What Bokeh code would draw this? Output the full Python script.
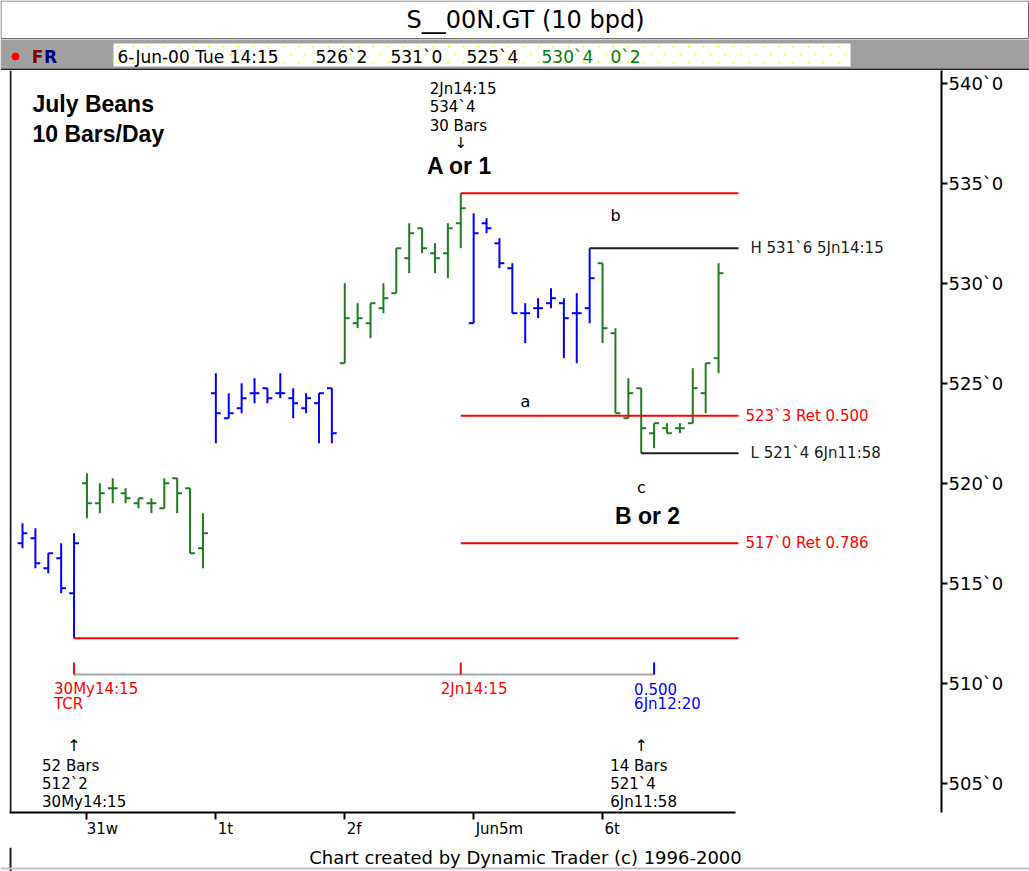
from bokeh.plotting import figure
from bokeh.layouts import column
from bokeh.models import Range1d, FixedTicker, BoxAnnotation, ColumnDataSource, LinearAxis
from bokeh.core.properties import value
from bokeh.embed import file_html
from bokeh.resources import INLINE

# ---------------- data ----------------
title_text = "S__00N.GT (10 bpd)"
day_labels = ["30My", "31w", "1t", "2f", "Jun5m", "6t"]
bars_per_day = [5, 10, 10, 10, 10, 10]

opens = [517.0, 517.25, 515.75, 516.25, 514.5,
         520.0, 519.0, 519.75, 519.5, 519.0, 519.0, 518.75, 520.25, 519.75, 516.75,
         524.5, 523.25, 523.75, 524.5, 524.75, 524.5, 524.25, 523.75, 524.0, 524.75,
         526.0, 528.0, 528.0, 528.75, 529.5, 531.25, 532.75, 531.5, 531.5, 533.0,
         528.0, 533.0, 532.0, 530.75, 528.5, 528.75, 529.0, 529.0, 528.5, 528.75,
         531.0, 527.5, 523.25, 524.75, 522.5, 522.75, 522.75, 523.0, 524.5, 526.25]
highs = [518.0, 517.75, 516.5, 517.0, 517.5,
         520.5, 520.0, 520.25, 519.75, 519.25, 519.25, 520.25, 520.25, 519.75, 518.5,
         525.5, 524.5, 525.0, 525.25, 524.75, 525.5, 524.75, 524.5, 524.5, 524.75,
         530.0, 529.0, 529.0, 530.0, 531.75, 533.0, 532.75, 532.0, 533.0, 534.5,
         533.5, 533.25, 532.25, 531.0, 529.0, 529.25, 529.75, 529.25, 529.5, 531.75,
         531.0, 527.75, 525.25, 524.75, 523.0, 523.0, 523.0, 525.75, 526.0, 531.0]
lows = [516.75, 515.75, 515.5, 514.5, 512.25,
        518.25, 518.5, 519.0, 519.0, 518.75, 518.5, 518.75, 518.5, 516.5, 515.75,
        522.0, 523.25, 523.5, 524.0, 524.0, 524.25, 523.25, 523.5, 522.0, 522.0,
        526.0, 527.75, 527.25, 528.5, 529.5, 530.5, 531.5, 530.5, 530.25, 531.75,
        528.0, 532.5, 530.75, 528.5, 527.0, 528.25, 528.75, 526.25, 526.0, 528.0,
        527.0, 523.5, 523.25, 521.5, 521.75, 522.5, 522.5, 523.0, 523.5, 525.5]
closes = [517.5, 516.0, 516.5, 514.75, 517.0,
          519.0, 519.5, 519.75, 519.25, 519.25, 519.0, 520.0, 519.5, 516.5, 517.5,
          523.5, 523.5, 524.25, 524.5, 524.25, 524.5, 524.0, 524.25, 524.5, 522.5,
          528.25, 528.25, 529.0, 529.25, 531.75, 532.5, 531.75, 531.25, 532.75, 533.75,
          532.5, 532.75, 531.0, 528.5, 528.5, 528.75, 529.25, 528.25, 528.5, 530.25,
          527.75, 523.5, 524.5, 522.75, 523.0, 522.5, 522.75, 524.75, 526.0, 530.5]

price_ticks = [505, 510, 515, 520, 525, 530, 535, 540]
price_tick_labels = ["505`0", "510`0", "515`0", "520`0", "525`0", "530`0", "535`0", "540`0"]
date_ticks = [5, 15, 25, 35, 45]
date_tick_labels = ["31w", "1t", "2f", "Jun5m", "6t"]

# horizontal levels: A high, swing H, 0.500 ret, swing L, 0.786 ret, start low
level_prices = [534.5, 531.75, 523.375, 521.5, 517.0, 512.25]
level_start = [34, 44, 34, 48, 34, 4]
level_texts = ["", "H 531`6 5Jn14:15", "523`3 Ret 0.500", "L 521`4 6Jn11:58", "517`0 Ret 0.786", ""]

# time markers on the bottom
marker_bars = [4, 34, 49]
marker_texts = [["30My14:15", "TCR"], ["2Jn14:15"], ["0.500", "6Jn12:20"]]

# swing points: bar index, bar count, time label
swing_bars = [4, 34, 48]
swing_counts = [52, 30, 14]
swing_times = ["30My14:15", "2Jn14:15", "6Jn11:58"]

info_date = "6-Jun-00 Tue 14:15"
info_extra = "0`2"
footer_text = "Chart created by Dynamic Trader (c) 1996-2000"

# ---------------- geometry / style ----------------
W, H = 1029, 871
HDR_H = 70
FTR_TOP = 847
FL, FR, FT, FB = 9, 941, 70, 812
X0PX, DX = 22.0, 12.89
Y540, DY = 82.7, 20.0
TICK = 0.38
SMALL = "15px"


def xd(px):
    return (px - X0PX) / DX


def yd(py):
    return 540 - (py - Y540) / DY


def fmt(v):
    whole = int(v)
    return f"{whole}`{int(round((v - whole) * 8))}"


BLUE = "#0000ff"
GREEN = "#1e7d1e"
RED = "#ff0000"
BLACK = "#000000"
FONT = "DejaVu Sans"
BOLD_FONT = "Liberation Sans"

day_colors = [BLUE, GREEN]
colors = []
for d, n in enumerate(bars_per_day):
    colors += [day_colors[d % 2]] * n
idx = list(range(len(opens)))

# ================= header =================
hdr = figure(width=W, height=HDR_H, title=None, x_range=Range1d(0, W), y_range=Range1d(HDR_H, 0),
             x_axis_location=None, y_axis_location=None, output_backend="svg",
             toolbar_location=None, min_border=0)
hdr.frame_align = False
hdr.outline_line_color = None
hdr.grid.visible = False
hdr.quad(left=[0.5], right=[W - 1], top=[0.5], bottom=[38], fill_color="white",
         line_color="#707070", line_width=1)
hdr.quad(left=[0], right=[W], top=[39], bottom=[68], fill_color="#a0a0a0", line_color=None)
hdr.quad(left=[113], right=[850], top=[43], bottom=[66], fill_color="white", line_color=None)
# dotted yellow texture of the status field
dot_x, dot_y = [], []
for r, yy in enumerate([46, 54, 62]):
    xx = 118 + (7 if r % 2 else 0)
    while xx < 848:
        dot_x.append(xx)
        dot_y.append(yy)
        xx += 15
hdr.scatter(x=dot_x, y=dot_y, size=2, color="#f0f000", line_color=None)
hdr.quad(left=[0], right=[W], top=[68], bottom=[70], fill_color="#202020", line_color=None)
hdr.text(x=[525], y=[19], text=[title_text], text_align="center", text_baseline="middle",
         text_font=value(FONT), text_font_size="24px", text_color=BLACK)
hdr.scatter(x=[15], y=[56], size=7, color=RED)
hdr.text(x=[37, 50], y=[56, 56], text=["F", "R"], text_align="center", text_baseline="middle",
         text_font=value(FONT), text_font_style="bold", text_font_size="17px",
         text_color=["#800000", "#000080"])
info_x = [117, 315, 390, 466, 541, 610]
info_txt = [info_date, fmt(opens[-1]), fmt(highs[-1]), fmt(lows[-1]), fmt(closes[-1]), info_extra]
info_col = [BLACK, BLACK, BLACK, BLACK, "#008000", "#008000"]
hdr.text(x=info_x, y=[56] * 6, text=info_txt, text_color=info_col, text_align="left",
         text_baseline="middle", text_font=value(FONT), text_font_size="17px")

# ================= main chart =================
p = figure(width=W, height=FTR_TOP - HDR_H, title=None,
           x_range=Range1d(xd(FL), xd(FR)), y_range=Range1d(yd(FB), yd(FT)),
           y_axis_location="right", x_axis_location=None, output_backend="svg",
           toolbar_location=None,
           min_border_left=FL, min_border_right=W - FR, min_border_top=0,
           min_border_bottom=FTR_TOP - FB)
p.frame_align = False
p.outline_line_color = None
p.grid.visible = False

yax = p.yaxis[0]
yax.ticker = FixedTicker(ticks=price_ticks)
yax.major_label_overrides = {t: l for t, l in zip(price_ticks, price_tick_labels)}
yax.minor_tick_line_color = None
yax.major_tick_in = 0
yax.major_tick_out = 6
yax.major_tick_line_width = 2
yax.axis_line_width = 2
yax.major_label_standoff = 1
yax.major_label_text_font = FONT
yax.major_label_text_font_size = "18px"
yax.major_label_text_color = BLACK

# x axis: tick marks
xax = LinearAxis(ticker=FixedTicker(ticks=date_ticks))
xax.major_label_overrides = {t: "" for t in date_ticks}
xax.major_label_text_font_size = "0px"
xax.major_label_standoff = 0
xax.minor_tick_line_color = None
xax.major_tick_in = 0
xax.major_tick_out = 7
xax.major_tick_line_width = 2
xax.axis_line_width = 2
xax.bounds = (xd(FL), xd(735))
p.add_layout(xax, "below")
# x axis: day labels, printed just right of each tick (shift = half label width + gap)
lab_shift = [1.2, 0.75, 0.73, 2.0, 0.75]
lab_pos = [t + s for t, s in zip(date_ticks, lab_shift)]
xlab = LinearAxis(ticker=FixedTicker(ticks=lab_pos))
xlab.major_label_overrides = {t: l for t, l in zip(lab_pos, date_tick_labels)}
xlab.axis_line_color = None
xlab.major_tick_line_color = None
xlab.minor_tick_line_color = None
xlab.major_tick_out = 0
xlab.major_tick_in = 0
xlab.major_label_standoff = 0
xlab.major_label_text_font = FONT
xlab.major_label_text_font_size = SMALL
xlab.major_label_text_color = BLACK
p.add_layout(xlab, "below")

# left border line of the chart area
p.add_layout(BoxAnnotation(left=xd(FL), right=xd(FL + 2), fill_color="#202020",
                           fill_alpha=1, line_color=None))

# ---- OHLC bars ----
src = ColumnDataSource(dict(x=idx, o=opens, h=highs, l=lows, c=closes, color=colors,
                            xl=[i - TICK for i in idx], xr=[i + TICK for i in idx]))
p.segment(x0="x", y0="l", x1="x", y1="h", color="color", line_width=2, source=src)
p.segment(x0="xl", y0="o", x1="x", y1="o", color="color", line_width=2, source=src)
p.segment(x0="x", y0="c", x1="xr", y1="c", color="color", line_width=2, source=src)

# ---- level lines ----
lvl_end = xd(738)
lvl_colors = [RED, "#202020", RED, "#202020", RED, RED]
p.segment(x0=level_start, y0=level_prices, x1=[lvl_end] * len(level_prices), y1=level_prices,
          color=lvl_colors, line_width=2)
lvl_text_x = [xd(750) if t.startswith(("H", "L")) else xd(745) for t in level_texts]
p.text(x=lvl_text_x, y=level_prices, text=level_texts, text_color=lvl_colors,
       text_font=value(FONT), text_font_size=SMALL, text_baseline="middle", text_align="left")

# ---- time markers ----
mk_y = yd(674)
p.segment(x0=[marker_bars[0]], y0=[mk_y], x1=[marker_bars[-1]], y1=[mk_y],
          color="#a8a8a8", line_width=2)
mk_colors = [RED, RED, BLUE]
p.segment(x0=marker_bars, y0=[yd(662)] * 3, x1=marker_bars, y1=[mk_y] * 3,
          color=mk_colors, line_width=2)
tx, ty, tt, tc = [], [], [], []
for b, lines, c in zip(marker_bars, marker_texts, mk_colors):
    for k, s in enumerate(lines):
        tx.append(b - 20 / DX)
        ty.append(yd(688 + 15 * k))
        tt.append(s)
        tc.append(c)
p.text(x=tx, y=ty, text=tt, text_color=tc, text_font=value(FONT), text_font_size=SMALL,
       text_baseline="middle", text_align="left")

# ---- swing annotations ----
a_i = 1
top_lines = [swing_times[a_i], fmt(highs[swing_bars[a_i]]), f"{swing_counts[a_i]} Bars"]
p.text(x=[swing_bars[a_i] - 31 / DX] * 3, y=[yd(88), yd(106), yd(125)], text=top_lines,
       text_color=BLACK, text_font=value(FONT), text_font_size=SMALL,
       text_baseline="middle", text_align="left")
p.text(x=[swing_bars[a_i]], y=[yd(142)], text=["\u2193"], text_color=BLACK,
       text_font=value(FONT), text_font_size="15px", text_baseline="middle",
       text_align="center")

for i, off in ((0, 32), (2, 31)):
    b = swing_bars[i]
    lines = [f"{swing_counts[i]} Bars", fmt(lows[b]), swing_times[i]]
    p.text(x=[b], y=[yd(745)], text=["\u2191"], text_color=BLACK, text_font=value(FONT),
           text_font_size="16px", text_baseline="middle", text_align="center")
    p.text(x=[b - off / DX] * 3, y=[yd(765), yd(783), yd(801)], text=lines, text_color=BLACK,
           text_font=value(FONT), text_font_size=SMALL, text_baseline="middle",
           text_align="left")

# wave labels
p.text(x=[swing_bars[1] - 0.1, xd(647)], y=[yd(165), yd(515)], text=["A or 1", "B or 2"],
       text_color=BLACK, text_font=value(BOLD_FONT), text_font_style="bold",
       text_font_size="23px", text_baseline="middle", text_align="center")
p.text(x=[xd(525), xd(615), xd(641)], y=[yd(401), yd(215), yd(487)], text=["a", "b", "c"],
       text_color=BLACK, text_font=value(FONT), text_font_size="16px",
       text_baseline="middle", text_align="center")
p.text(x=[xd(32)] * 2, y=[yd(103), yd(133)], text=["July Beans", "10 Bars/Day"],
       text_color=BLACK, text_font=value(BOLD_FONT), text_font_style="bold",
       text_font_size="23px", text_baseline="middle", text_align="left")

# ================= footer =================
ftr = figure(width=W, height=H - FTR_TOP, title=None, x_range=Range1d(0, W),
             y_range=Range1d(H, FTR_TOP), x_axis_location=None, y_axis_location=None,
             output_backend="svg", toolbar_location=None, min_border=0)
ftr.frame_align = False
ftr.outline_line_color = None
ftr.grid.visible = False
ftr.quad(left=[FL], right=[FL + 2], top=[FTR_TOP], bottom=[H], fill_color="#202020",
         line_color=None)
ftr.quad(left=[0], right=[W], top=[867], bottom=[869], fill_color="#c0c0c0", line_color=None)
ftr.text(x=[525], y=[857], text=[footer_text], text_align="center", text_baseline="middle",
         text_font=value(FONT), text_font_size="18px", text_color=BLACK)

layout = column(hdr, p, ftr, spacing=0)
open("out.html", "w").write(file_html(layout, INLINE))
